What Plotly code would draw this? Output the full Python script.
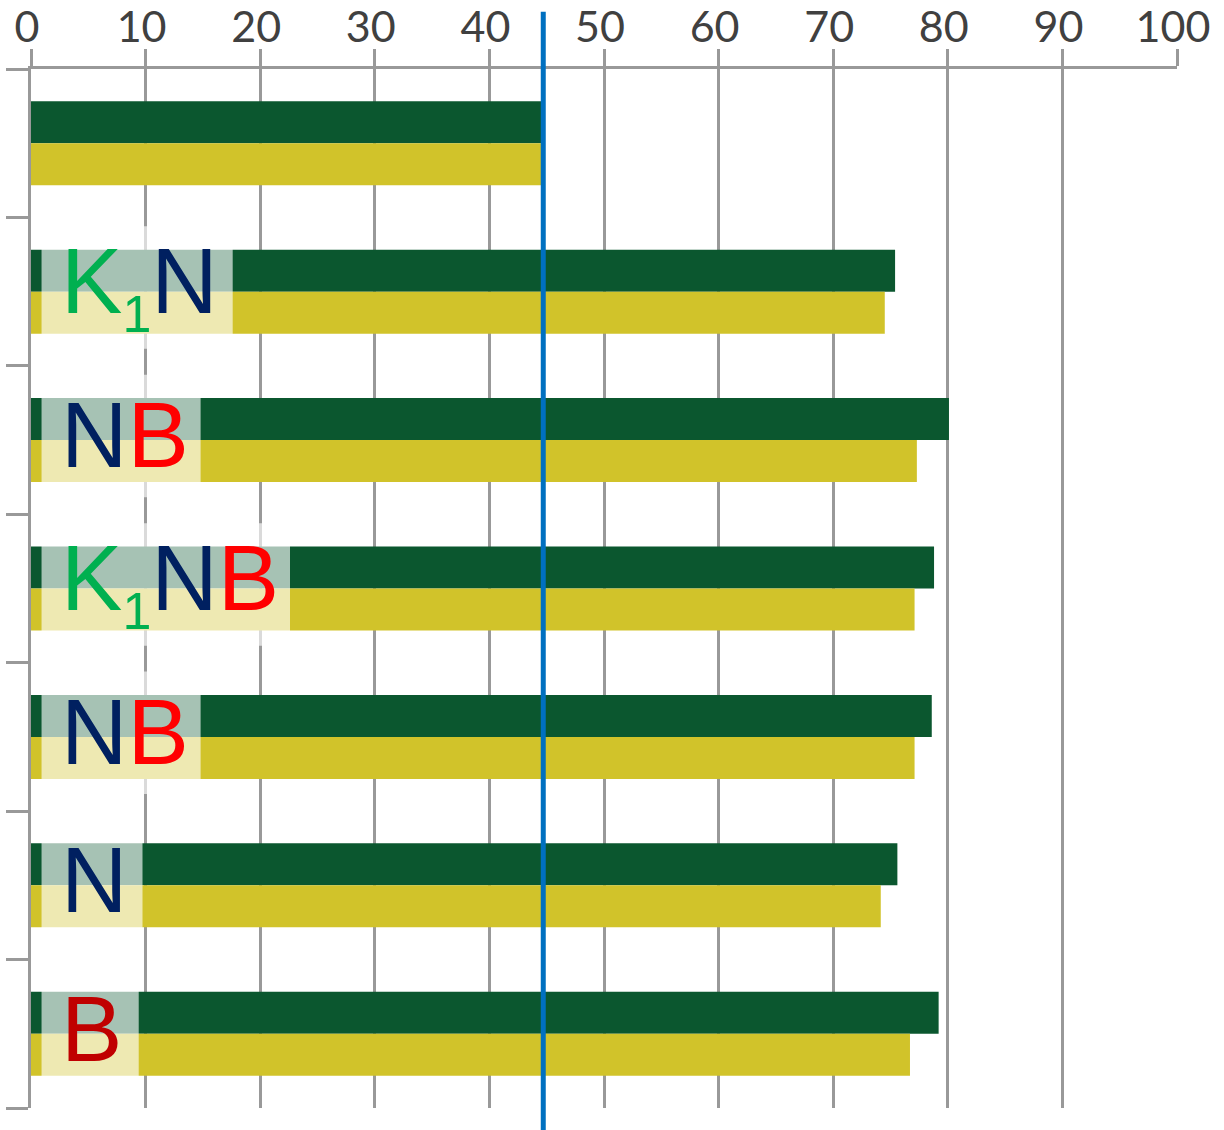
import plotly.graph_objects as go

# ---- data ----
categories = ["", "K1N", "NB", "K1NB", "NB", "N", "B"]
series_green = [44.6, 75.4, 80.1, 78.8, 78.6, 75.6, 79.2]
series_yellow = [44.6, 74.5, 77.3, 77.1, 77.1, 74.15, 76.7]
SUB1 = "<sub><span style='font-size:52px'>1</span></sub>"
label_html = [
    None,
    "<span style='color:#00B050'>K" + SUB1 + "</span><span style='color:#002060'>N</span>",
    "<span style='color:#002060'>N</span><span style='color:#FF0000'>B</span>",
    "<span style='color:#00B050'>K" + SUB1 + "</span><span style='color:#002060'>N</span><span style='color:#FF0000'>B</span>",
    "<span style='color:#002060'>N</span><span style='color:#FF0000'>B</span>",
    "<span style='color:#002060'>N</span>",
    "<span style='color:#C00000'>B</span>",
]
label_box_start = 0.92
label_box_end = [None, 17.6, 14.8, 22.6, 14.8, 9.73, 9.4]
reference_line = 44.7
x_ticks = [0, 10, 20, 30, 40, 50, 60, 70, 80, 90, 100]

GREEN = "#0B572F"
YELLOW = "#D1C32A"
GRID = "#999999"

pos = list(range(len(categories)))
half = 0.283

fig = go.Figure()
fig.add_trace(go.Bar(
    y=pos, x=series_green, orientation="h",
    width=half, offset=-half,
    marker=dict(color=GREEN, line=dict(width=0)),
    name="green", hoverinfo="x",
))
fig.add_trace(go.Bar(
    y=pos, x=series_yellow, orientation="h",
    width=half, offset=0,
    marker=dict(color=YELLOW, line=dict(width=0)),
    name="yellow", hoverinfo="x",
))

shapes = []
annotations = []
for i, (lab, end) in enumerate(zip(label_html, label_box_end)):
    if lab is None:
        continue
    shapes.append(dict(
        type="rect", xref="x", yref="y",
        x0=label_box_start, x1=end, y0=i - 0.44, y1=i + 0.385,
        fillcolor="rgba(255,255,255,0.64)", line=dict(width=0), layer="above",
    ))
    annotations.append(dict(
        x=2.45, y=i - 0.034, xref="x", yref="y", xanchor="left", yanchor="middle",
        text=lab, showarrow=False,
        font=dict(family="Liberation Sans, Arial, sans-serif", size=92),
    ))

shapes.append(dict(
    type="line", xref="x", yref="paper",
    x0=reference_line, x1=reference_line, y0=-0.03, y1=1.055,
    line=dict(color="#0070C0", width=5), layer="above",
))

fig.update_layout(
    width=1224, height=1130,
    margin=dict(l=31, r=47, t=69, b=22, autoexpand=False),
    paper_bgcolor="white", plot_bgcolor="white",
    showlegend=False,
    barmode="overlay",
    shapes=shapes,
    annotations=annotations,
    xaxis=dict(
        side="top", range=[0, 100], tickvals=x_ticks,
        ticktext=[str(v) for v in x_ticks],
        showgrid=True, gridcolor=GRID, gridwidth=3,
        ticks="outside", ticklen=17, tickwidth=3, tickcolor=GRID,
        showline=True, linecolor=GRID, linewidth=3,
        zeroline=False, automargin=False,
        tickfont=dict(family="Lato, sans-serif", size=43, color="#404040"),
        ticklabelshift=-4, ticklabelstandoff=-10,
    ),
    yaxis=dict(
        range=[len(categories) - 0.5, -0.5],
        tickvals=[k - 0.5 for k in range(len(categories) + 1)],
        showticklabels=False,
        ticks="outside", ticklen=22, tickwidth=3, tickcolor=GRID,
        showline=True, linecolor=GRID, linewidth=3,
        showgrid=False, zeroline=False, automargin=False,
    ),
)

fig.write_html(
    "out.html",
    config={"displayModeBar": False},
    post_script="document.body.style.margin='0';document.body.style.overflow='hidden';",
)
